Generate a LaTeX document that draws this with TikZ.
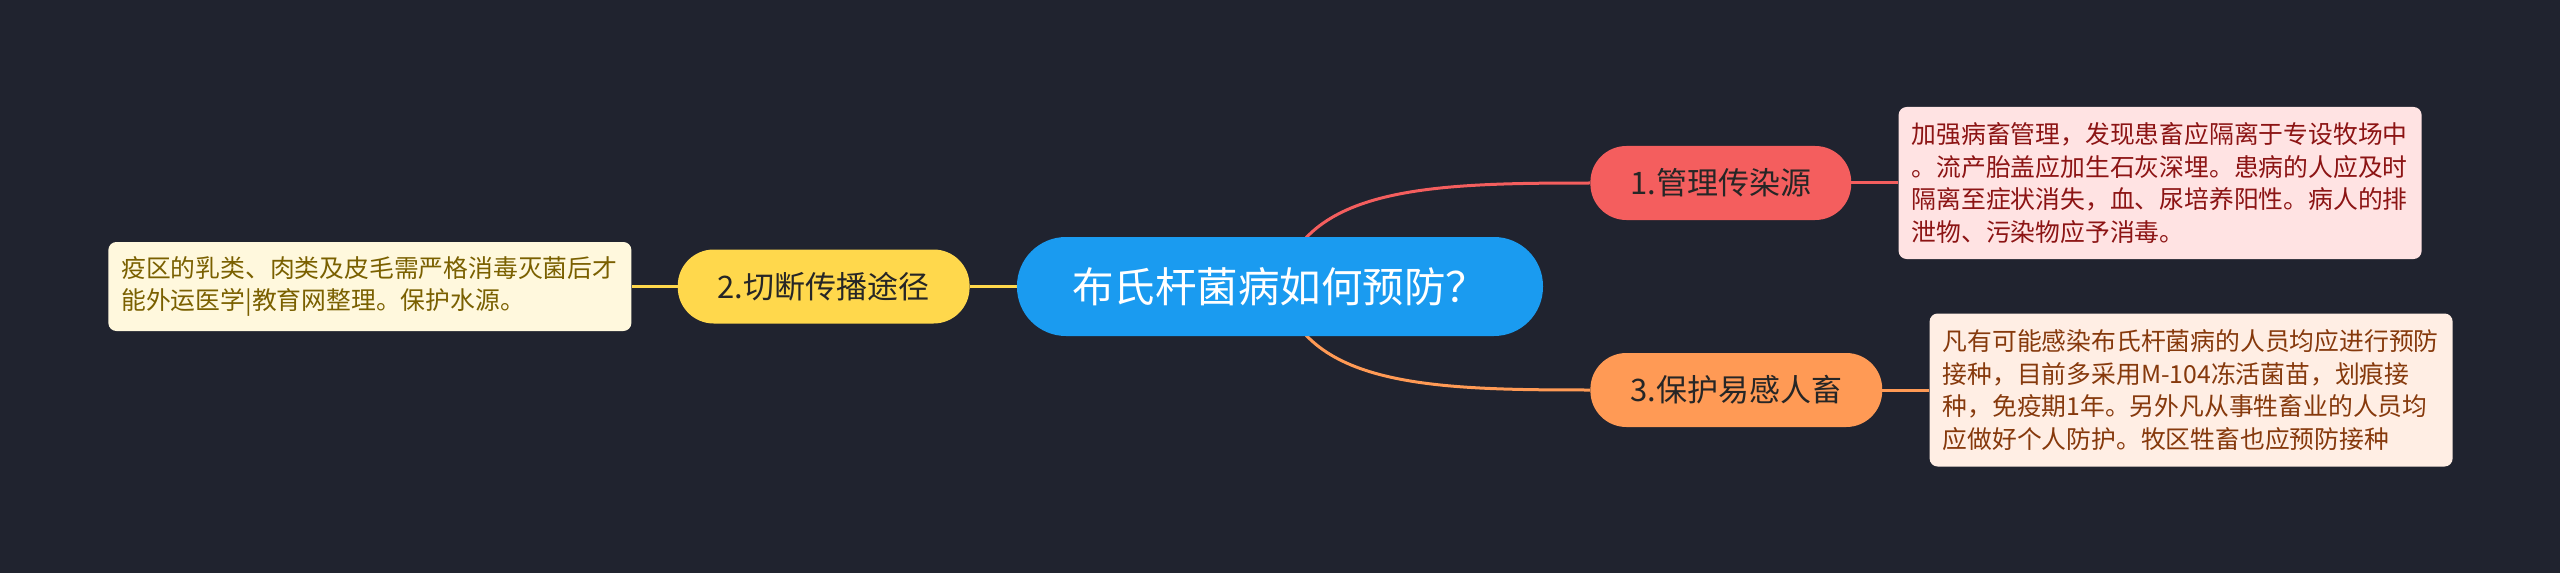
\documentclass[tikz,border=0pt]{standalone}
\usepackage{fontspec}
\setmainfont{Noto Sans CJK SC}
\usetikzlibrary{positioning,backgrounds}

\definecolor{bg}{HTML}{20232F}
\definecolor{rootblue}{HTML}{1A9BF0}
\definecolor{redtopic}{HTML}{F45E5E}
\definecolor{yellowtopic}{HTML}{FFD84C}
\definecolor{orangetopic}{HTML}{FF9A55}
\definecolor{topictext}{HTML}{262626}
\definecolor{redfill}{HTML}{FFE3E3}
\definecolor{redtext}{HTML}{8C1414}
\definecolor{orangefill}{HTML}{FFEEE4}
\definecolor{orangetext}{HTML}{86390C}
\definecolor{yellowfill}{HTML}{FFF8DD}
\definecolor{yellowtext}{HTML}{7A6000}

\tikzstyle{every node}+=[inner sep=0pt]
\tikzstyle{root}=[rectangle, rounded corners=49pt, fill=rootblue, text=white, minimum width=526pt, minimum height=99pt, font=\fontsize{41.5}{48}\selectfont]
\tikzstyle{topic}=[rectangle, rounded corners=36pt, minimum height=74pt, inner xsep=40pt, text=topictext, font=\fontsize{31}{37}\selectfont]
\tikzstyle{detail}=[rectangle, rounded corners=8pt, text width=497pt, inner xsep=13pt, align=left, font=\fontsize{24.8}{32.5}\selectfont]
\tikzstyle{link}=[line width=3pt]

\begin{document}
\begin{tikzpicture}

\useasboundingbox (-1280pt,-286.5pt) rectangle (1280pt,286.5pt);

\node[root] (root) at (0,0) {布氏杆菌病如何预防？};

\node[topic, fill=redtopic, right=47pt of root, yshift=103.5pt] (manage) {1.管理传染源};
\node[topic, fill=yellowtopic, left=47pt of root] (cutoff) {2.切断传播途径};
\node[topic, fill=orangetopic, right=47pt of root, yshift=-103.5pt] (protect) {3.保护易感人畜};

\node[detail, fill=redfill, text=redtext, minimum height=152pt, right=47pt of manage] (manage text) {加强病畜管理，发现患畜应隔离于专设牧场中\\。流产胎盖应加生石灰深埋。患病的人应及时\\隔离至症状消失，血、尿培养阳性。病人的排\\泄物、污染物应予消毒。};
\node[detail, fill=yellowfill, text=yellowtext, minimum height=89pt, left=46pt of cutoff] (cutoff text) {疫区的乳类、肉类及皮毛需严格消毒灭菌后才\\能外运医学|教育网整理。保护水源。};
\node[detail, fill=orangefill, text=orangetext, minimum height=153pt, right=47pt of protect] (protect text) {凡有可能感染布氏杆菌病的人员均应进行预防\\接种，目前多采用M-104冻活菌苗，划痕接\\种，免疫期1年。另外凡从事牲畜业的人员均\\应做好个人防护。牧区牲畜也应预防接种};

\begin{scope}[on background layer]
\fill[bg] (-1280pt,-286.5pt) rectangle (1280pt,286.5pt);
\draw[link, redtopic] (root.center) .. controls +(25pt,100pt) and +(-160pt,0pt) .. (manage.west);
\draw[link, orangetopic] (root.center) .. controls +(25pt,-100pt) and +(-160pt,0pt) .. (protect.west);
\draw[link, yellowtopic] (root) -- (cutoff);
\draw[link, redtopic] (manage) -- (manage text);
\draw[link, yellowtopic] (cutoff) -- (cutoff text);
\draw[link, orangetopic] (protect) -- (protect text);
\end{scope}
\end{tikzpicture}
\end{document}
